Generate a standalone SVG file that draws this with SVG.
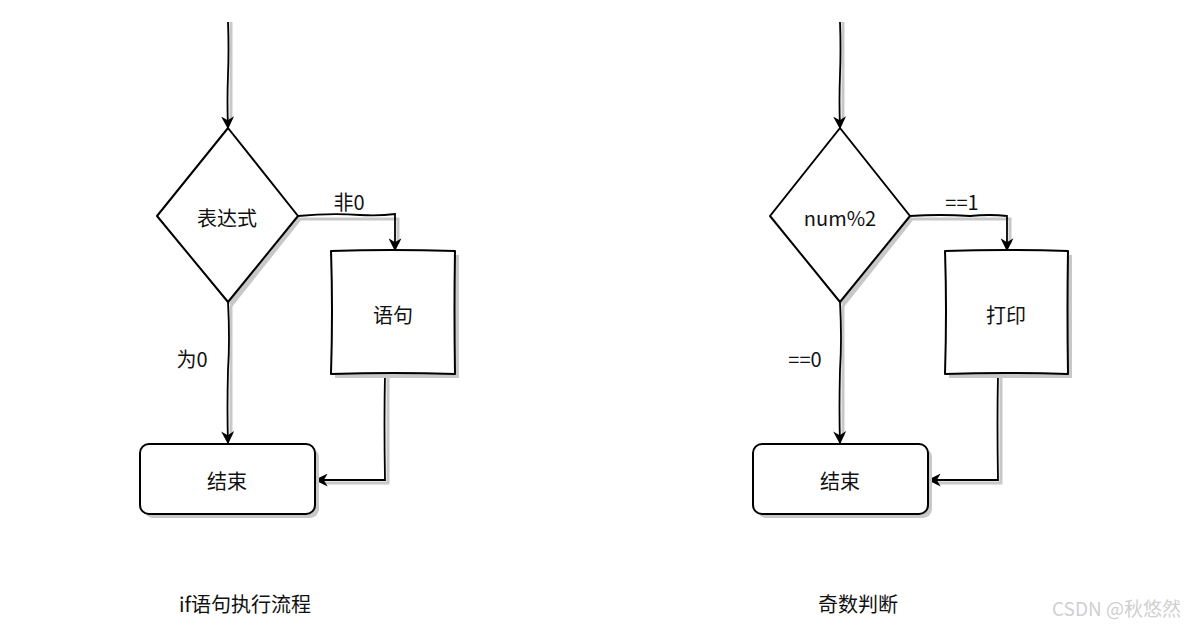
<svg xmlns="http://www.w3.org/2000/svg" width="1186" height="629" viewBox="0 0 1186 629">
<defs>
<style>
.sh{fill:none;stroke:#c8c8c8;stroke-width:3}
.shf{fill:#c8c8c8;stroke:none}
.n{fill:#fff;stroke:#000;stroke-width:2;stroke-linejoin:round}
.e{fill:none;stroke:#000;stroke-width:1.8}
.t{font-family:"Noto Sans CJK SC","Noto Sans",sans-serif;font-size:20px;fill:#111;text-anchor:middle;dominant-baseline:central}
.wm{font-family:"Noto Sans CJK SC","Liberation Sans",sans-serif;font-size:19px;fill:#d0d0d0;text-anchor:end}
</style>
<marker id="ar" viewBox="0 0 10 10" refX="9" refY="5" markerWidth="13" markerHeight="13" markerUnits="userSpaceOnUse" orient="auto">
<path d="M0,0 L10,5 L0,10 L3,5 Z" fill="#000"/>
</marker>
</defs>
<rect width="1186" height="629" fill="#fff"/>
<g id="connectors">
<path class="sh" d="M231,22 L231,120"/>
<path class="sh" d="M301,219 L398,219 L398,244"/>
<path class="sh" d="M231,305 L231,436"/>
<path class="sh" d="M388,377 L388,483 L323,483"/>
<path class="sh" d="M843,22 L843,120"/>
<path class="sh" d="M913,219 L1010,219 L1010,244"/>
<path class="sh" d="M843,305 L843,436"/>
<path class="sh" d="M1001,377 L1001,483 L936,483"/>
<path class="e" marker-end="url(#ar)" d="M228,22 Q229,50 228,75 Q227,100 228,128"/>
<path class="e" marker-end="url(#ar)" d="M298,216 Q330,213 360,215 Q380,216 395,214 L395,250"/>
<path class="e" marker-end="url(#ar)" d="M228,302 Q230,340 228,370 Q227,410 228,443"/>
<path class="e" marker-end="url(#ar)" d="M385,374 Q384,420 385,480 L316,480"/>
<path class="e" marker-end="url(#ar)" d="M840,22 Q841,50 840,75 Q839,100 840,128"/>
<path class="e" marker-end="url(#ar)" d="M910,216 Q940,214 970,216 Q990,214 1007,216 L1007,250"/>
<path class="e" marker-end="url(#ar)" d="M840,302 Q842,340 840,370 Q839,410 840,443"/>
<path class="e" marker-end="url(#ar)" d="M998,374 Q997,420 998,480 L929,480"/>
<text class="t" x="349" y="201">非0</text>
<text class="t" x="192" y="358">为0</text>
<text class="t" x="962" y="201">==1</text>
<text class="t" x="805" y="358">==0</text>
</g>
<g id="cond1">
<path class="shf" d="M298,216 L302,219 L232,307 L228,302 Z"/>
<path class="n" d="M228,128 L298,216 L228,302 L157,216 Z"/>
<text class="t" x="227" y="217">表达式</text>
</g>
<g id="stmt1">
<rect x="335" y="255" width="124" height="123" class="shf"/>
<path class="n" d="M331,251 Q390,249 455,251 Q454,310 455,374 Q395,372 331,374 Q333,310 331,251 Z"/>
<text class="t" x="393" y="314">语句</text>
</g>
<g id="end1">
<rect x="144" y="448" width="175" height="70" rx="9" class="shf"/>
<rect x="140" y="444" width="175" height="70" rx="9" class="n"/>
<text class="t" x="227" y="480">结束</text>
</g>
<g id="cond2">
<path class="shf" d="M910,216 L914,219 L844,307 L840,302 Z"/>
<path class="n" d="M840,128 L910,216 L840,302 L770,216 Z"/>
<text class="t" x="840" y="217">num%2</text>
</g>
<g id="stmt2">
<rect x="949" y="255" width="123" height="123" class="shf"/>
<path class="n" d="M945,251 Q1005,249 1068,251 Q1067,310 1068,374 Q1005,372 945,374 Q947,310 945,251 Z"/>
<text class="t" x="1006" y="314">打印</text>
</g>
<g id="end2">
<rect x="757" y="448" width="175" height="70" rx="9" class="shf"/>
<rect x="753" y="444" width="175" height="70" rx="9" class="n"/>
<text class="t" x="840" y="480">结束</text>
</g>
<text class="t" x="245" y="603">if语句执行流程</text>
<text class="t" x="858" y="603">奇数判断</text>
<text class="wm" x="1181" y="616">CSDN @秋悠然</text>
</svg>
